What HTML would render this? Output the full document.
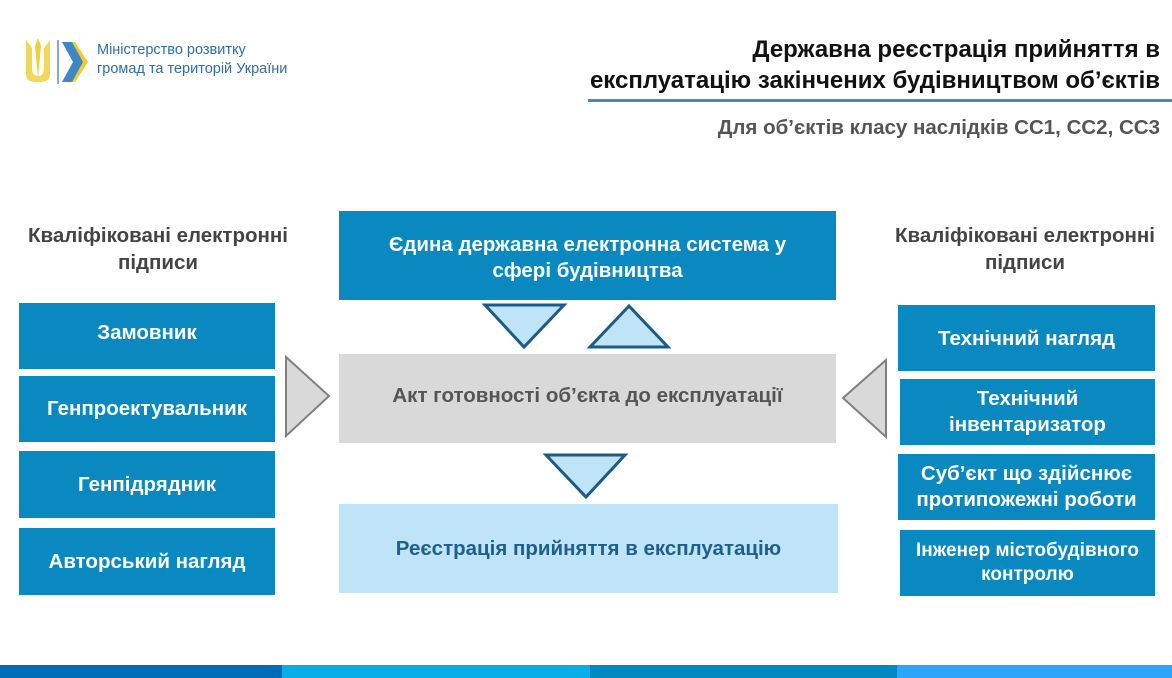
<!DOCTYPE html>
<html><head><meta charset="utf-8"><style>
body{margin:0;width:1172px;height:678px;background:#fff;position:relative;overflow:hidden;font-family:"Liberation Sans",Arial,sans-serif}
.a{position:absolute}
.b{position:absolute;background:#0a88c0;color:#fff;font-weight:bold;font-size:20.5px;display:flex;align-items:center;justify-content:center;text-align:center;line-height:26px;white-space:nowrap}
.h{position:absolute;color:#444;font-weight:bold;font-size:20.5px;text-align:center;line-height:27px;white-space:nowrap}
</style></head><body>
<svg class="a" style="left:20px;top:38px" width="75" height="48">
<path d="M6 2 L6 36 Q6 44 16 44 L22 44 L22 38 Q12 40 12 30 L12 10 Z" fill="#f2d75a"/>
<path d="M30 2 L30 36 Q30 44 20 44 L14 44 L14 38 Q24 40 24 30 L24 10 Z" fill="#f2d75a"/>
<path d="M18 0 L21 8 L18 40 L15 8 Z" fill="#efcf40"/>
<rect x="37" y="2" width="2" height="44" fill="#88a8c8"/>
<path d="M42 4 L55 4 L68 24 L55 44 L42 44 L55 24 Z" fill="#f0cc30"/>
<path d="M42 4 L52 4 L63 24 L52 44 L42 44 L53 24 Z" fill="#3f86c4"/>
</svg>
<div class="a" style="left:97px;top:41px;font-size:14.5px;line-height:19px;color:#2f6ea8">Міністерство розвитку<br>громад та територій України</div>
<div class="a" style="right:12px;top:34px;font-size:24px;font-weight:bold;line-height:31px;text-align:right;color:#111;white-space:nowrap">Державна реєстрація прийняття в<br>експлуатацію закінчених будівництвом об’єктів</div>
<div class="a" style="left:588px;top:99px;width:584px;height:3px;background:#4a86b8"></div>
<div class="a" style="right:12px;top:116px;font-size:20.5px;font-weight:bold;color:#555;white-space:nowrap">Для об’єктів класу наслідків СС1, СС2, СС3</div>

<div class="h" style="left:8px;top:222px;width:300px">Кваліфіковані електронні<br>підписи</div>
<div class="h" style="left:870px;top:222px;width:310px">Кваліфіковані електронні<br>підписи</div>

<div class="b" style="left:339px;top:211px;width:497px;height:89px;padding-top:4px;box-sizing:border-box">Єдина державна електронна система у<br>сфері будівництва</div>
<div class="b" style="left:339px;top:354px;width:497px;height:89px;background:#d9d9d9;color:#555;padding-bottom:6px;box-sizing:border-box">Акт готовності об’єкта до експлуатації</div>
<div class="b" style="left:339px;top:504px;width:499px;height:89px;background:#bfe3f7;color:#1f5f8c">Реєстрація прийняття в експлуатацію</div>

<div class="b" style="left:19px;top:303px;width:256px;height:66px;padding-bottom:6px;box-sizing:border-box">Замовник</div>
<div class="b" style="left:19px;top:376px;width:256px;height:66px">Генпроектувальник</div>
<div class="b" style="left:19px;top:451px;width:256px;height:67px">Генпідрядник</div>
<div class="b" style="left:19px;top:528px;width:256px;height:67px">Авторський нагляд</div>

<div class="b" style="left:898px;top:305px;width:257px;height:66px;padding-top:2px;box-sizing:border-box">Технічний нагляд</div>
<div class="b" style="left:900px;top:379px;width:255px;height:66px">Технічний<br>інвентаризатор</div>
<div class="b" style="left:898px;top:454px;width:257px;height:66px">Суб’єкт що здійснює<br>протипожежні роботи</div>
<div class="b" style="left:900px;top:530px;width:255px;height:66px;font-size:19px;line-height:24px">Інженер містобудівного<br>контролю</div>

<svg class="a" style="left:0;top:0" width="1172" height="678">
<polygon points="485,305 564,305 524,347" fill="#bfe3f7" stroke="#1d5a85" stroke-width="3"/>
<polygon points="590,347 668,347 629,306" fill="#bfe3f7" stroke="#1d5a85" stroke-width="3"/>
<polygon points="546,455 625,455 586,497" fill="#bfe3f7" stroke="#1d5a85" stroke-width="3"/>
<polygon points="286,357 286,436 329,396" fill="#d9d9d9" stroke="#808080" stroke-width="2"/>
<polygon points="886,360 886,437 843,398" fill="#d9d9d9" stroke="#808080" stroke-width="2"/>
</svg>

<div class="a" style="left:0;top:665px;width:282px;height:13px;background:#006bb6"></div>
<div class="a" style="left:282px;top:665px;width:308px;height:13px;background:#07aee8"></div>
<div class="a" style="left:590px;top:665px;width:307px;height:13px;background:#0488c0"></div>
<div class="a" style="left:897px;top:665px;width:275px;height:13px;background:#2ea4fb"></div>
</body></html>
